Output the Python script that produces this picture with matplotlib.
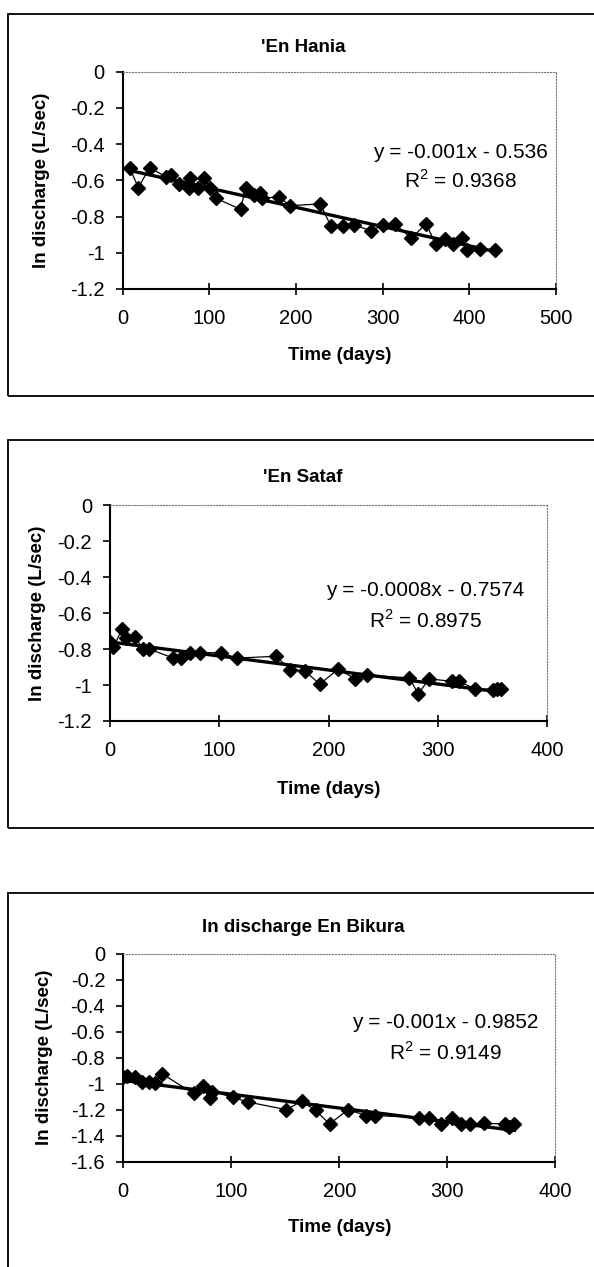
import numpy as np
import matplotlib
matplotlib.use('Agg')
import matplotlib.pyplot as plt
from matplotlib.patches import Rectangle

plt.rcParams['font.family'] = ['Liberation Sans', 'DejaVu Sans']
plt.rcParams['mathtext.fontset'] = 'custom'
plt.rcParams['mathtext.rm'] = 'Liberation Sans'

# --- datos ---
hania_days = [8, 18, 31, 50, 56, 65, 76, 78, 87, 94, 101, 108, 136, 142, 151, 159, 161,
              180, 193, 228, 240, 254, 267, 287, 300, 314, 333, 350, 361, 372, 381, 392,
              397, 412, 430]
hania_lnq = [-0.53, -0.64, -0.53, -0.58, -0.57, -0.62, -0.645, -0.585, -0.645, -0.585,
             -0.64, -0.70, -0.76, -0.64, -0.68, -0.67, -0.70, -0.69, -0.74, -0.73, -0.85,
             -0.85, -0.845, -0.88, -0.845, -0.84, -0.92, -0.84, -0.95, -0.925, -0.95,
             -0.92, -0.985, -0.98, -0.985]

sataf_days = [0, 3, 11, 15, 23, 30, 36, 58, 65, 73, 82, 102, 116, 152, 165, 178, 192,
              209, 224, 235, 274, 282, 292, 313, 319, 334, 350, 354, 358]
sataf_lnq = [-0.76, -0.79, -0.69, -0.74, -0.73, -0.80, -0.80, -0.85, -0.85, -0.82, -0.82,
             -0.82, -0.85, -0.84, -0.915, -0.92, -0.995, -0.91, -0.965, -0.945, -0.96,
             -1.05, -0.965, -0.98, -0.98, -1.02, -1.025, -1.02, -1.02]

bikura_days = [0, 3, 11, 17, 24, 29, 36, 65, 74, 80, 82, 102, 115, 151, 165, 178, 191,
               208, 225, 233, 274, 283, 294, 304, 313, 321, 334, 353, 357, 362]
bikura_lnq = [-0.95, -0.94, -0.95, -0.99, -0.985, -0.995, -0.925, -1.075, -1.015, -1.11,
              -1.06, -1.105, -1.14, -1.20, -1.135, -1.205, -1.31, -1.20, -1.245, -1.245,
              -1.26, -1.265, -1.31, -1.26, -1.31, -1.31, -1.305, -1.31, -1.33, -1.31]

titles = ["'En Hania", "'En Sataf", "ln discharge En Bikura"]
eq_texts = ['y = -0.001x - 0.536', 'y = -0.0008x - 0.7574', 'y = -0.001x - 0.9852']
r2_texts = ['0.9368', '0.8975', '0.9149']
x_ticks = [[0, 100, 200, 300, 400, 500], [0, 100, 200, 300, 400], [0, 100, 200, 300, 400]]
y_ticks = [[0, -0.2, -0.4, -0.6, -0.8, -1, -1.2],
           [0, -0.2, -0.4, -0.6, -0.8, -1, -1.2],
           [0, -0.2, -0.4, -0.6, -0.8, -1, -1.2, -1.4, -1.6]]
series = [(hania_days, hania_lnq), (sataf_days, sataf_lnq), (bikura_days, bikura_lnq)]

# posiciones en pixeles (imagen 594x1267)
W, H = 594, 1267
layout = [
    dict(box=(14, 396), ax=(122.7, 556.0, 71.7, 289.0), title_y=48, eq=(460, 153, 181),
         xl_y=356, yl_x=42),
    dict(box=(440, 828), ax=(110.0, 547.2, 505.3, 721.0), title_y=478, eq=(425, 590, 620),
         xl_y=789, yl_x=38),
    dict(box=(893, 1272), ax=(123.3, 555.3, 953.7, 1161.7), title_y=928, eq=(445, 1022, 1053),
         xl_y=1228, yl_x=45),
]


def fx(px):
    return px / W


def fy(py):
    return 1 - py / H


fig = plt.figure(figsize=(W / 100, H / 100), dpi=100)

for i, lay in enumerate(layout):
    top, bot = lay['box']
    fig.patches.append(Rectangle((fx(8), fy(bot)), fx(620) - fx(8), fy(top) - fy(bot),
                                 transform=fig.transFigure, fill=False, lw=1.3,
                                 edgecolor='black'))
    l, r, t, b = lay['ax']
    ax = fig.add_axes([fx(l), fy(b), fx(r) - fx(l), fy(t) - fy(b)])
    x, y = series[i]
    ax.plot(x, y, color='black', lw=0.9, marker='D', markersize=6.8, zorder=3)
    fit = np.polyfit(x, y, 1)
    xs = np.array([min(x), max(x)])
    ax.plot(xs, np.polyval(fit, xs), color='black', lw=2.4, zorder=2)

    ax.set_xlim(x_ticks[i][0], x_ticks[i][-1])
    ax.set_ylim(y_ticks[i][-1], y_ticks[i][0])
    ax.set_xticks(x_ticks[i])
    ax.set_yticks(y_ticks[i])
    ax.set_yticklabels([f'{v:g}' for v in y_ticks[i]])
    ax.tick_params(axis='x', direction='inout', length=9, width=1.2, labelsize=14.5, pad=10)
    ax.tick_params(axis='y', direction='out', length=5, width=1.2, labelsize=14.5, pad=8)
    for s in ['left', 'bottom']:
        ax.spines[s].set_linewidth(1.5)
    for s in ['top', 'right']:
        ax.spines[s].set_linewidth(0.8)
        ax.spines[s].set_linestyle(':')
        ax.spines[s].set_color('#777777')

    fig.text(fx(303), fy(lay['title_y']), titles[i], ha='center', va='center',
             fontsize=13.5, fontweight='bold')
    fig.text(fx((l + r) / 2), fy(lay['xl_y']), 'Time (days)', ha='center', va='center',
             fontsize=13.5, fontweight='bold')
    fig.text(fx(lay['yl_x']), fy((t + b) / 2), 'ln discharge (L/sec)', ha='center',
             va='center', rotation=90, fontsize=13.5, fontweight='bold')
    ex, ey1, ey2 = lay['eq']
    fig.text(fx(ex), fy(ey1), eq_texts[i], ha='center', va='center', fontsize=15)
    fig.text(fx(ex), fy(ey2), 'R$^2$ = ' + r2_texts[i], ha='center', va='center',
             fontsize=15)

fig.savefig('out.png', dpi=100)
